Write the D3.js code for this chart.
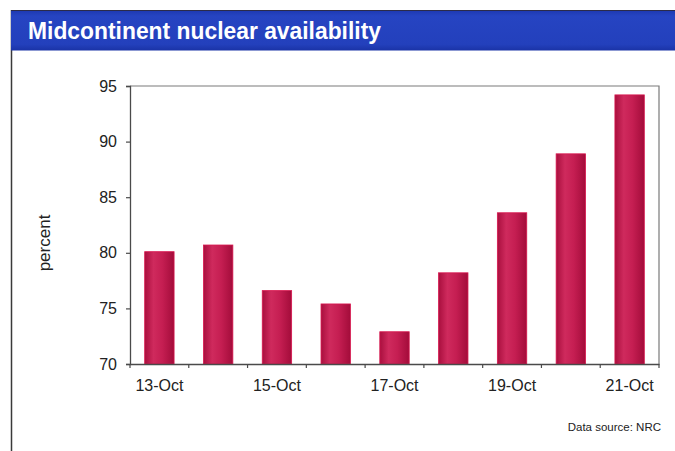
<!DOCTYPE html>
<html>
<head>
<meta charset="utf-8">
<script src="https://cdn.jsdelivr.net/npm/d3@7"></script>
<style>
  html, body { margin: 0; padding: 0; background: #fff; }
  svg { display: block; }
</style>
</head>
<body>
<svg id="chart" width="675" height="451"></svg>
<script>
// Daily availability of Midcontinent nuclear units, October
const days = ["13-Oct", "14-Oct", "15-Oct", "16-Oct", "17-Oct", "18-Oct", "19-Oct", "20-Oct", "21-Oct"];
const availability = [80.1, 80.7, 76.6, 75.4, 72.9, 78.2, 83.6, 88.9, 94.2];
const yTicks = [70, 75, 80, 85, 90, 95];
const titleText = "Midcontinent nuclear availability";
const yLabel = "percent";
const sourceText = "Data source: NRC";

const svg = d3.select("#chart");
const W = 675, H = 451;
const plot = { left: 130, right: 659, top: 86, bottom: 364 };

const defs = svg.append("defs");
const hg = defs.append("linearGradient").attr("id", "hdr")
  .attr("x1", 0).attr("y1", 0).attr("x2", 0).attr("y2", 1);
hg.append("stop").attr("offset", "0%").attr("stop-color", "#1d38b0");
hg.append("stop").attr("offset", "15%").attr("stop-color", "#2644c2");
hg.append("stop").attr("offset", "85%").attr("stop-color", "#2340bc");
hg.append("stop").attr("offset", "100%").attr("stop-color", "#1a33a6");

const bg = defs.append("linearGradient").attr("id", "bar")
  .attr("x1", 0).attr("y1", 0).attr("x2", 1).attr("y2", 0);
bg.append("stop").attr("offset", "0%").attr("stop-color", "#a90f3e");
bg.append("stop").attr("offset", "30%").attr("stop-color", "#cf2a5d");
bg.append("stop").attr("offset", "60%").attr("stop-color", "#c51e52");
bg.append("stop").attr("offset", "100%").attr("stop-color", "#a30c3a");

// panel background and frame
svg.append("rect").attr("x", 0).attr("y", 0).attr("width", W).attr("height", H).attr("fill", "#fff");
svg.append("line").attr("x1", 11.5).attr("x2", 11.5).attr("y1", 10).attr("y2", H)
  .attr("stroke", "#3a3a3a").attr("stroke-width", 1.5);

// title band
svg.append("rect").attr("x", 11).attr("y", 10).attr("width", W - 11).attr("height", 40.5)
  .attr("fill", "url(#hdr)");
svg.append("line").attr("x1", 11).attr("x2", W).attr("y1", 10.5).attr("y2", 10.5)
  .attr("stroke", "#2b2b4a").attr("stroke-width", 1);
svg.append("text")
  .attr("x", 28).attr("y", 39.3)
  .attr("font-family", "'Liberation Sans', Arial, sans-serif")
  .attr("font-weight", "bold").attr("font-size", 23)
  .attr("fill", "#fff")
  .attr("textLength", 353).attr("lengthAdjust", "spacingAndGlyphs")
  .text(titleText);

// scales
const x = d3.scaleBand().domain(days).range([plot.left, plot.right])
  .paddingInner(0.5).paddingOuter(0.25);
const y = d3.scaleLinear().domain([70, 95]).range([plot.bottom, plot.top]);

// plot frame (top and right)
svg.append("path")
  .attr("d", `M${plot.left},${plot.top}H${plot.right}V${plot.bottom}`)
  .attr("fill", "none").attr("stroke", "#7a7a7a").attr("stroke-width", 1.2);

// bars
svg.append("g").selectAll("rect").data(availability).join("rect")
  .attr("x", (d, i) => x(days[i]))
  .attr("width", x.bandwidth())
  .attr("y", d => y(d))
  .attr("height", d => y(70) - y(d))
  .attr("fill", "url(#bar)")
  .attr("stroke", "#d8164e").attr("stroke-width", 0.8);

const font = "'Liberation Sans', Arial, sans-serif";

// y axis
const yAxis = svg.append("g").attr("transform", `translate(${plot.left},0)`)
  .call(d3.axisLeft(y).tickValues(yTicks).tickSize(4).tickPadding(9).tickFormat(d3.format("d")));
yAxis.select(".domain").attr("stroke", "#4a4a4a").attr("stroke-width", 1.3);
yAxis.selectAll(".tick line").attr("stroke", "#4a4a4a").attr("stroke-width", 1.2);
yAxis.selectAll(".tick text").attr("font-family", font).attr("font-size", 16).attr("fill", "#222");

// x axis: ticks at category boundaries, labels on alternate days
const step = x.step();
const gap = step - x.bandwidth();
const xAxis = svg.append("g").attr("transform", `translate(0,${plot.bottom})`)
  .call(d3.axisBottom(x).tickSize(0).tickPadding(16)
    .tickFormat((d, i) => i % 2 === 0 ? d : ""));
xAxis.select(".domain").attr("stroke", "#4a4a4a").attr("stroke-width", 1.3);
xAxis.selectAll(".tick text").attr("font-family", font).attr("font-size", 16).attr("fill", "#222");
const bounds = days.map(d => x(d) - gap / 2).concat([x(days[days.length - 1]) + x.bandwidth() + gap / 2]);
xAxis.append("g").selectAll("line").data(bounds).join("line")
  .attr("x1", d => d).attr("x2", d => d).attr("y1", 0).attr("y2", 4)
  .attr("stroke", "#4a4a4a").attr("stroke-width", 1.2);

// y label
svg.append("text")
  .attr("transform", "translate(50,243) rotate(-90)")
  .attr("text-anchor", "middle")
  .attr("font-family", font).attr("font-size", 17).attr("fill", "#222")
  .text(yLabel);

// source note
svg.append("text")
  .attr("x", 661).attr("y", 431).attr("text-anchor", "end")
  .attr("font-family", font).attr("font-size", 11.5).attr("fill", "#222")
  .text(sourceText);
</script>
</body>
</html>
